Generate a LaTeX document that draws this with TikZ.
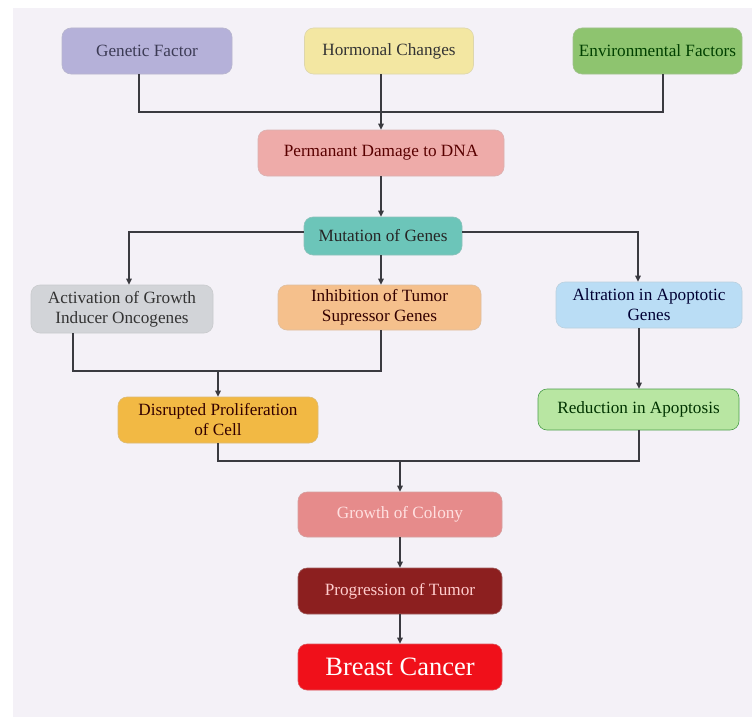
\documentclass[tikz,border=0pt]{standalone}
\usepackage{fontspec}
\setmainfont{Liberation Serif}
\usetikzlibrary{arrows.meta}
\definecolor{bgc}{HTML}{F4F1F7}
\definecolor{linec}{HTML}{3A3A40}
\begin{document}
\begin{tikzpicture}[x=1pt,y=-1pt,
  box/.style={rounded corners=9pt, draw=#1!85!black!70, line width=0.6pt, fill=#1, inner sep=0pt, align=center, font=\fontsize{17.2}{20}\selectfont, text=black!80},
  conn/.style={draw=linec, line width=1.3pt},
  arr/.style={conn, -{Triangle[length=6pt,width=5.5pt]}}]
\useasboundingbox (0,0) rectangle (752,717);
\fill[white] (0,0) rectangle (752,717);
\fill[bgc] (13,8) rectangle (752,717);
\definecolor{cgen}{HTML}{B5B1D9}
\definecolor{chor}{HTML}{F3E7A2}
\definecolor{cenv}{HTML}{8EC46F}
\definecolor{cdna}{HTML}{EEABA9}
\definecolor{cmut}{HTML}{6CC5B9}
\definecolor{cact}{HTML}{D2D4D8}
\definecolor{cinh}{HTML}{F5C08C}
\definecolor{calt}{HTML}{BADDF5}
\definecolor{cdis}{HTML}{F2B944}
\definecolor{cred}{HTML}{B8E6A2}
\definecolor{cgro}{HTML}{E68B8B}
\definecolor{cpro}{HTML}{8C1F1F}
\definecolor{cbc}{HTML}{F0101A}
\definecolor{tgen}{HTML}{3C3B55}

\node[box=cgen, minimum width=170pt, minimum height=46pt, text=tgen] (gen) at (147,51) {Genetic Factor};
\node[box=chor, minimum width=169pt, minimum height=46pt] (hor) at (389,51) {Hormonal Changes};
\node[box=cenv, minimum width=169pt, minimum height=46pt, text=green!25!black] (env) at (657.5,51) {Environmental Factors};
\node[box=cdna, minimum width=246pt, minimum height=46pt, text=red!35!black] (dna) at (381,153) {Permanant Damage to DNA};
\node[box=cmut, minimum width=158pt, minimum height=38pt, text=black!85] (mut) at (383,236) {Mutation of Genes};
\node[box=cact, minimum width=182pt, minimum height=48pt] (act) at (122,309) {Activation of Growth\\Inducer Oncogenes};
\node[box=cinh, minimum width=203pt, minimum height=45pt, text=black!80!red] (inh) at (379.5,307.5) {Inhibition of Tumor\\Supressor Genes};
\node[box=calt, minimum width=186pt, minimum height=46pt, text=black!80!blue] (alt) at (649,305) {Altration in Apoptotic\\Genes};
\node[box=cdis, minimum width=200pt, minimum height=46pt, text=black!80!red] (dis) at (218,420) {Disrupted Proliferation\\of Cell};
\node[box=cred, minimum width=201pt, minimum height=41pt, text=green!20!black, draw=green!45!black!70] (red) at (638.5,409.5) {Reduction in Apoptosis};
\node[box=cgro, minimum width=204pt, minimum height=45pt, text=red!12!white] (gro) at (400,514.5) {Growth of Colony};
\node[box=cpro, minimum width=204pt, minimum height=46pt, text=red!20!white] (pro) at (400,591) {Progression of Tumor};
\node[box=cbc, minimum width=204pt, minimum height=46pt, text=white, font=\fontsize{26.5}{28}\selectfont] (bc) at (400,667) {Breast Cancer};

% top merge
\coordinate (j1) at (381,112);
\draw[conn] (gen.south -| 139,0) |- (j1);
\draw[conn] (env.south -| 663,0) |- (j1);
\draw[arr] (hor.south -| 381,0) -- (dna.north -| 381,0);
\draw[arr] (dna.south -| 381,0) -- (mut.north -| 381,0);

% mutation splits
\draw[arr] (mut.west |- 0,232) -| (act.north -| 129,0);
\draw[arr] (mut.east |- 0,232) -| (alt.north -| 638,0);
\draw[arr] (mut.south -| 381,0) -- (inh.north -| 381,0);

% merge to disrupted
\coordinate (j2) at (218,371);
\draw[conn] (act.south -| 73,0) |- (j2);
\draw[conn] (inh.south -| 381,0) |- (j2);
\draw[arr] (j2) -- (dis.north -| 218,0);

\draw[arr] (alt.south -| 639,0) -- (red.north -| 639,0);

% merge to growth
\coordinate (j3) at (400,461);
\draw[conn] (dis.south -| 218,0) |- (j3);
\draw[conn] (red.south -| 639,0) |- (j3);
\draw[arr] (j3) -- (gro.north -| 400,0);
\draw[arr] (gro) -- (pro);
\draw[arr] (pro) -- (bc);
\end{tikzpicture}
\end{document}
